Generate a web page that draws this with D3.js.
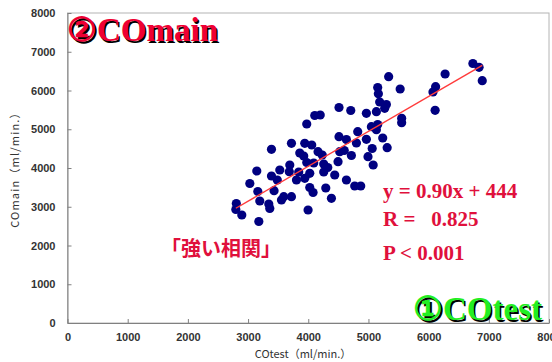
<!DOCTYPE html>
<html>
<head>
<meta charset="utf-8">
<script src="https://cdn.jsdelivr.net/npm/d3@7"></script>
<style>
  body { margin: 0; background: #fff; }
  .tick text { font-family: "Liberation Sans", Arial, sans-serif; font-weight: bold; font-size: 11px; fill: #333; }
</style>
</head>
<body>
<svg id="svg"></svg>
<script>
// CO values (ml/min.)
const coTest = [2805, 2797, 2896, 3179, 3029, 3162, 3195, 3145, 3389, 3721,
                3527, 3693, 3685, 3389, 3486, 3432, 3344, 3361, 3555, 3593,
                3721, 3804, 3859, 3942, 4058, 3925, 3842, 4163, 4232, 3975,
                4091, 4257, 4257, 3942, 4025, 4025, 4080, 4291, 4385, 3997,
                3975, 4108, 4199, 4324, 4440, 4634, 4772, 4872, 4495, 4523,
                4598, 4717, 4511, 4634, 4800, 4822, 4966, 4993, 5079, 4511,
                4706, 4966, 5062, 5311, 5237, 5049, 5154, 5132, 5552, 5552,
                5132, 5187, 5298, 5270, 5154, 5165, 5336, 5527, 6116, 6072,
                6108, 6274, 6735, 6838, 6891];
const coMain = [3084, 2929, 2787, 2619, 3600, 3393, 3148, 3923, 4482, 4637,
                3948, 4077, 3904, 3793, 3690, 3414, 3071, 2955, 3174, 3259,
                3259, 3690, 4387, 4637, 4593, 4310, 3897, 4421, 4335, 4142,
                4129, 4103, 3897, 3734, 3863, 3497, 3368, 3484, 3218, 2916,
                5135, 5355, 5368, 4013, 3819, 3690, 3535, 3535, 4162, 4421,
                4452, 4322, 4808, 4735, 4645, 4937, 4741, 4292, 4077, 5561,
                5484, 5412, 4503, 4524, 4774, 5066, 5122, 4988, 5282, 5169,
                5453, 5703, 5639, 5541, 6077, 5917, 6356, 6039, 6098, 5961,
                5489, 6426, 6697, 6598, 6253];

const axisTicks = [0, 1000, 2000, 3000, 4000, 5000, 6000, 7000, 8000];
const fitSlope = 0.90;
const fitIntercept = 444;
const statLines = ["y = 0.90x + 444", "R =   0.825", "P < 0.001"];

const w = 552;
const h = 362;
const plotLeft = 67.5, plotRight = 549, plotTop = 13, plotBottom = 323;

let svg = d3.select("#svg")
  .attr("width", w)
  .attr("height", h)
  .attr("viewBox", "0 0 " + w + " " + h);

const xScale = d3.scaleLinear().domain([0, 8000]).range([plotLeft, plotRight]);
const yScale = d3.scaleLinear().domain([0, 8000]).range([plotBottom, plotTop]);

// plot frame (top / right)
svg.append("rect")
  .attr("x", plotLeft).attr("y", plotTop)
  .attr("width", plotRight - plotLeft).attr("height", plotBottom - plotTop)
  .attr("fill", "none")
  .attr("stroke", "#b4b4b4")
  .attr("stroke-width", 1);

// axes, ticks point inward
let xAxis = d3.axisBottom(xScale).tickValues(axisTicks).tickFormat(d3.format("d"))
  .tickSizeInner(-4).tickSizeOuter(0).tickPadding(10);
svg.append("g")
  .attr("transform", "translate(0," + plotBottom + ")")
  .call(xAxis)
  .call(g => g.select(".domain").attr("stroke", "#808080"))
  .call(g => g.selectAll(".tick line").attr("stroke", "#808080"));

let yAxis = d3.axisLeft(yScale).tickValues(axisTicks).tickFormat(d3.format("d"))
  .tickSizeInner(-4).tickSizeOuter(0).tickPadding(12);
svg.append("g")
  .attr("transform", "translate(" + plotLeft + ",0)")
  .call(yAxis)
  .call(g => g.select(".domain").attr("stroke", "#808080"))
  .call(g => g.selectAll(".tick line").attr("stroke", "#808080"));

// axis titles
svg.append("text")
  .attr("x", 303)
  .attr("y", 358)
  .attr("text-anchor", "middle")
  .attr("font-family", "'Noto Sans CJK JP', sans-serif")
  .attr("font-size", "11px")
  .attr("fill", "#333")
  .text("COtest（ml/min.）");

svg.append("text")
  .attr("transform", "translate(19,167) rotate(-90)")
  .attr("text-anchor", "middle")
  .attr("font-family", "'Noto Sans CJK JP', sans-serif")
  .attr("font-size", "11px")
  .attr("letter-spacing", "1.2px")
  .attr("fill", "#333")
  .text("COmain（ml/min.）");

// points
svg.selectAll(".dot")
  .data(coTest.map((d, i) => ({ x: d, y: coMain[i] })))
  .enter()
  .append("circle")
  .attr("class", "dot")
  .attr("cx", d => xScale(d.x))
  .attr("cy", d => yScale(d.y))
  .attr("r", 4.6)
  .attr("fill", "#000080");

// regression line
let xExt = d3.extent(coTest);
svg.append("line")
  .attr("x1", xScale(xExt[0]))
  .attr("y1", yScale(fitSlope * xExt[0] + fitIntercept))
  .attr("x2", xScale(xExt[1]))
  .attr("y2", yScale(fitSlope * xExt[1] + fitIntercept))
  .attr("stroke", "#ff3b3b")
  .attr("stroke-width", 1.4);

// big labels with a dark drop shadow
function shadowText(str, x, y, fill) {
  [["#000", 1.5], [fill, 0]].forEach(([c, off]) => {
    svg.append("text")
      .attr("x", x + off)
      .attr("y", y + off)
      .attr("font-family", "'Liberation Serif', 'DejaVu Serif', serif")
      .attr("font-weight", "bold")
      .attr("font-size", "33px")
      .attr("fill", c)
      .text(str);
  });
}
shadowText("②COmain", 67, 41, "#ee0033");
shadowText("①COtest", 413, 320, "#22ee22");

// statistics
const statY = [198, 226, 260];
statLines.forEach((s, i) => {
  svg.append("text")
    .attr("x", 383)
    .attr("y", statY[i])
    .attr("font-family", "'Liberation Serif', 'Times New Roman', serif")
    .attr("font-weight", "bold")
    .attr("font-size", "21px")
    .attr("fill", "#e0103c")
    .style("white-space", "pre")
    .text(s);
});

svg.append("text")
  .attr("x", 161)
  .attr("y", 256)
  .attr("font-family", "'Noto Sans CJK JP', sans-serif")
  .attr("font-weight", "bold")
  .attr("font-size", "20px")
  .attr("fill", "#e0103c")
  .text("「強い相関」");
</script>
</body>
</html>
